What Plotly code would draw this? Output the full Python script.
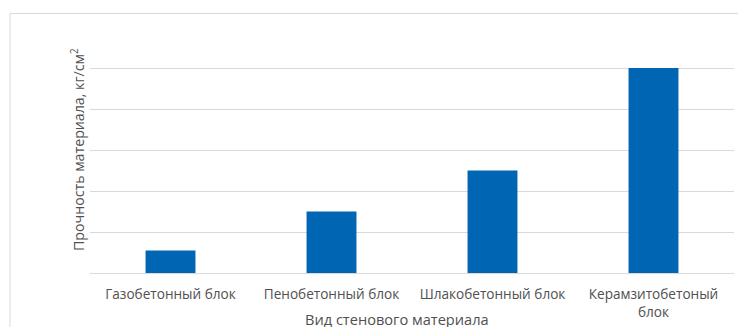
import plotly.graph_objects as go

categories = ["Газобетонный блок", "Пенобетонный блок", "Шлакобетонный блок", "Керамзитобетоный<br>блок"]
values = [11, 30, 50, 100]
y_title = "Прочность материала, кг/см<sup>2</sup>"
x_title = "Вид стенового материала"

W, H = 738, 327
L, R, T, B = 90, 4, 27, 54

fig = go.Figure(go.Bar(x=categories, y=values, marker=dict(color="#0066B4", line=dict(width=0)), width=0.31))

font = "Open Sans"
txt = "#505050"
fig.update_layout(
    width=W, height=H,
    margin=dict(l=L, r=R, t=T, b=B),
    paper_bgcolor="white", plot_bgcolor="white",
    showlegend=False,
    font=dict(family=font, color=txt, size=13.6),
)
fig.update_yaxes(range=[0, 120], dtick=20, showticklabels=False, showgrid=True,
                 gridcolor="#D9D9D9", gridwidth=1, zeroline=False, showline=False,
                 fixedrange=True)
fig.update_xaxes(showgrid=False, showline=True, linecolor="#D9D9D9", linewidth=1,
                 tickfont=dict(family=font, size=13.6, color=txt), ticks="",
                 ticklabelstandoff=9)

# chart area border
fig.add_shape(type="rect", xref="paper", yref="paper",
              x0=(10 - L) / (W - L - R), x1=(760 - L) / (W - L - R),
              y0=-(360 - (H - B)) / (H - T - B), y1=1 + (T - 13.5) / (H - T - B),
              line=dict(color="#D9D9D9", width=1), layer="below")

fig.add_annotation(text=x_title, xref="paper", yref="paper",
                   x=(397 - L) / (W - L - R), y=-(319 - (H - B)) / (H - T - B),
                   showarrow=False, xanchor="center", yanchor="middle",
                   font=dict(family=font, size=14.6, color=txt))
fig.add_annotation(text=y_title, xref="paper", yref="paper",
                   x=-(L - 77) / (W - L - R), y=0.5, textangle=-90,
                   showarrow=False, xanchor="center", yanchor="middle",
                   font=dict(family=font, size=14.2, color=txt))

fig.write_html("out.html")
